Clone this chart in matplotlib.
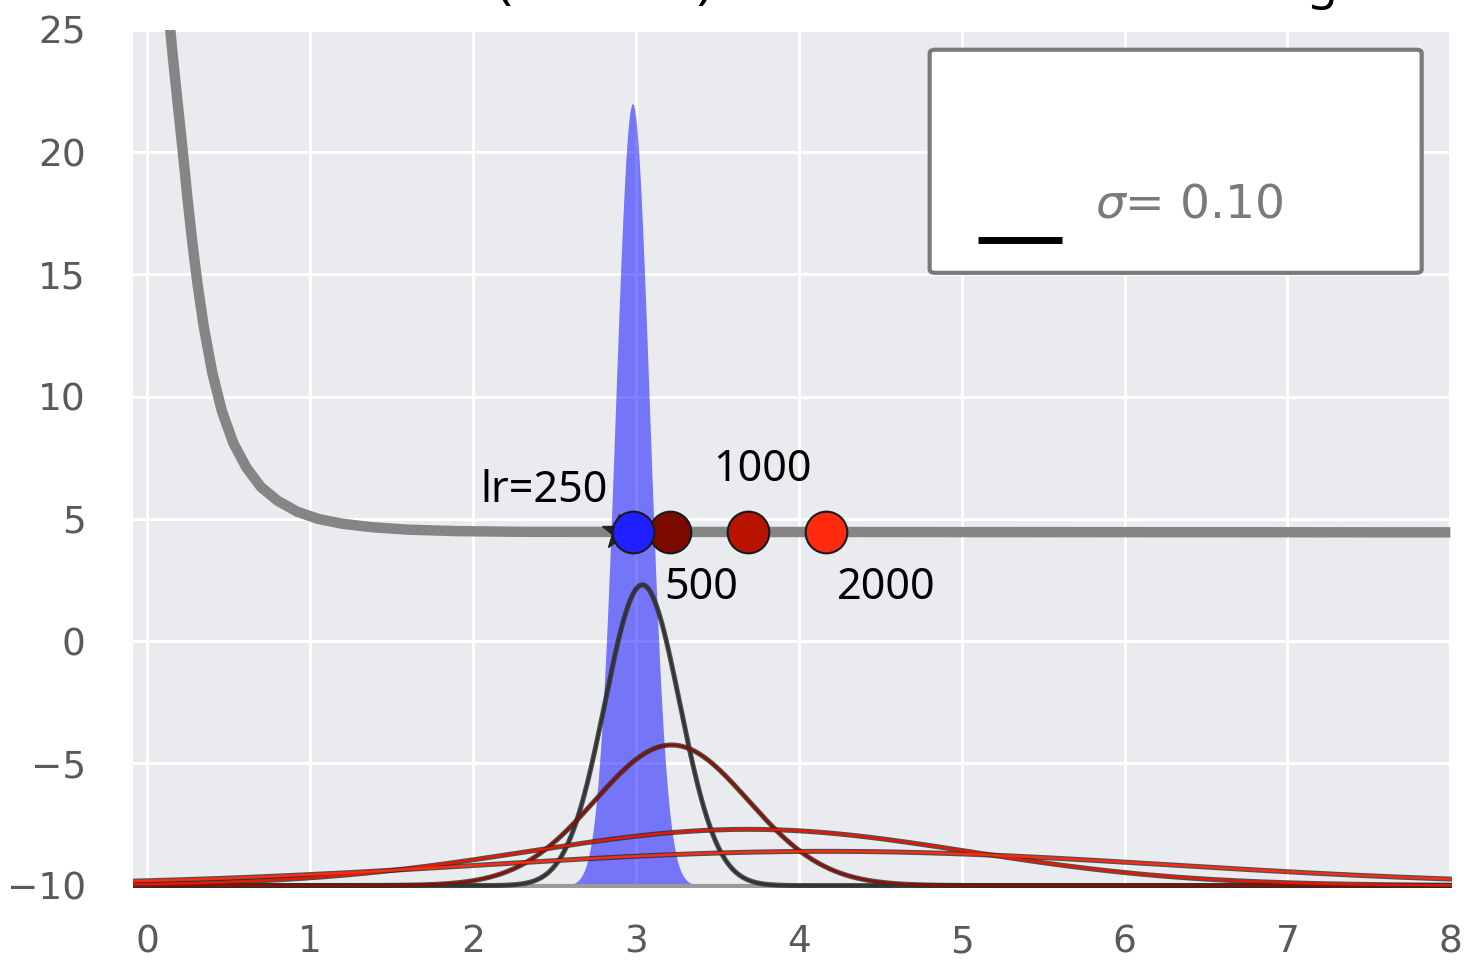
import numpy as np
import matplotlib.pyplot as plt
from matplotlib.patches import FancyBboxPatch

# loss curve (thick grey)
loss_x = [0.14, 0.16, 0.19, 0.22, 0.25, 0.28, 0.31, 0.35, 0.40, 0.46, 0.53, 0.61, 0.70, 0.80, 0.92,
          1.05, 1.20, 1.38, 1.60, 1.90, 2.30, 8.00]
loss_y = [25.2, 23.8, 21.9, 20.0, 18.0, 16.2, 14.6, 12.8, 11.0, 9.4, 8.1, 7.1, 6.3, 5.75, 5.3,
          5.0, 4.8, 4.66, 4.56, 4.5, 4.47, 4.45]

# end positions of the balls for each learning rate
lr_labels = ["lr=250", "500", "1000", "2000"]
ball_x = [2.98, 3.21, 3.69, 4.17]
ball_y = [4.45, 4.45, 4.45, 4.45]
ball_colors = ["#1f1fff", "#7a0a00", "#b81400", "#ff2a10"]

# spread of each run: centre, width, peak height (baseline at -10)
spread_mu = [3.04, 3.22, 3.69, 4.17]
spread_sigma = [0.23, 0.47, 1.35, 2.1]
spread_peak = [2.3, -4.25, -7.7, -8.6]
spread_colors = ["#333333", "#8b1000", "#e81800", "#ff2a10"]

# smoothing kernel (blue)
kernel_mu = 2.98
kernel_sigma = 0.105
kernel_peak = 22.0
baseline = -10

fig = plt.figure(figsize=(14.64, 9.6), dpi=100)
fig.patch.set_facecolor("white")
ax = fig.add_axes([133 / 1464, 72 / 960, 1319 / 1464, 858 / 960])
ax.set_facecolor("#eaebef")
for s in ax.spines.values():
    s.set_visible(False)

ax.set_xlim(-0.086, 8.01)
ax.set_ylim(-10.1, 25.0)
ax.set_xticks(range(0, 9))
ax.set_yticks(range(-10, 26, 5))
ax.grid(color="white", linewidth=2.2)
ax.set_axisbelow(True)
tick_font = ["Liberation Sans Narrow", "DejaVu Sans Condensed", "DejaVu Sans"]
ax.tick_params(length=0, labelsize=27, labelcolor="#5a5a5a")
ax.tick_params(axis="y", pad=34)
ax.tick_params(axis="x", pad=26)
for lab in ax.get_xticklabels() + ax.get_yticklabels():
    lab.set_family(tick_font)

xs = np.linspace(-0.086, 8.01, 1200)

# blue kernel
kern = baseline + (kernel_peak - baseline) * np.exp(-(xs - kernel_mu) ** 2 / (2 * kernel_sigma ** 2))
ax.fill_between(xs, baseline, kern, color=(0.0, 0.0, 1.0, 0.5), linewidth=0, zorder=2)

# baseline
ax.plot([xs[0], xs[-1]], [baseline, baseline], color="#9a9a9a", lw=3, zorder=3)

# spread curves
for mu, sg, pk, c in zip(spread_mu, spread_sigma, spread_peak, spread_colors):
    ys = baseline + (pk - baseline) * np.exp(-(xs - mu) ** 2 / (2 * sg ** 2))
    ax.plot(xs, ys, color="#2a2a2a", lw=3.6, alpha=0.8, zorder=4)
    ax.plot(xs, ys, color=c, lw=1.8, zorder=5)

# loss curve
ax.plot(loss_x, loss_y, color="#858585", lw=7.5, solid_capstyle="butt",
        solid_joinstyle="round", zorder=6)

# balls
ax.plot(ball_x[0] - 0.08, ball_y[0], marker="*", ms=26, color="#222222", zorder=7)
for bx, by, c in zip(ball_x[::-1], ball_y[::-1], ball_colors[::-1]):
    ax.plot(bx, by, marker="o", ms=30, color=c, mec="#1a1a1a", mew=1.5, zorder=8)

# labels next to the balls
label_pos = [(2.44, 6.16), (3.40, 2.16), (3.78, 6.98), (4.54, 2.16)]
for txt, (lx, ly) in zip(lr_labels, label_pos):
    ax.text(lx, ly, txt, fontsize=31, family="Noto Sans", color="black",
            ha="center", va="center", zorder=9)

# legend box
box = FancyBboxPatch((0.604, 0.717), 0.373, 0.26, boxstyle="round,pad=0,rounding_size=0.004",
                     transform=ax.transAxes, facecolor="white", edgecolor="#7a7a7a",
                     linewidth=3, zorder=10)
ax.add_patch(box)
ax.plot([0.641, 0.704], [0.755, 0.755], transform=ax.transAxes, color="black",
        lw=5, solid_capstyle="butt", zorder=11)
ax.text(0.729, 0.796, r"$\sigma$= 0.10", transform=ax.transAxes, fontsize=34,
        color="#7a7a7a", ha="left", va="center", zorder=11)

# title, cut off at the top of the frame (only the descenders show)
fig.text(712 / 1464, 1.0 + 2 / 960, "Smoothed loss (σ = 0.10)", fontsize=36, family="Noto Sans",
         ha="right", va="baseline")
fig.text(1338 / 1464, 1.0 + 2 / 960, "with different learning", fontsize=36, family="Noto Sans",
         ha="right", va="baseline")

fig.savefig("out.png", dpi=100)
